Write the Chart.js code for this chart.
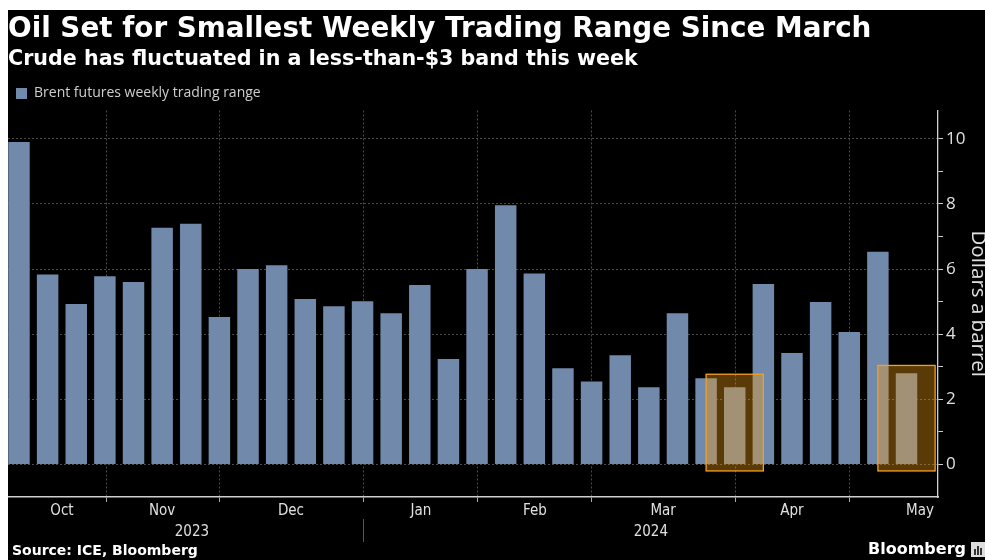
<!DOCTYPE html>
<html>
<head>
<meta charset="utf-8">
<script src="https://cdn.jsdelivr.net/npm/chart.js@4.4.1/dist/chart.umd.min.js"></script>
<style>
  html, body { margin: 0; padding: 0; background: #fff; }
  #wrap { position: absolute; left: 8px; top: 10px; width: 977px; height: 550px; background: #000; overflow: hidden; }
</style>
</head>
<body>
<div id="wrap"><canvas id="chart" width="977" height="550"></canvas></div>
<script>
// 週ごとの値幅（ドル/バレル）
var ranges = [9.9, 5.83, 4.93, 5.78, 5.6, 7.27, 7.39, 4.53, 6.0, 6.12, 5.08, 4.86, 5.01, 4.64, 5.51, 3.24,
  6.0, 7.96, 5.86, 2.95, 2.55, 3.35, 2.37, 4.64, 2.65, 2.37, 5.54, 3.42, 4.99, 4.07, 6.53, 2.8];

// 月ラベルと区切り（週の番号で指定）
var monthNames = ["Oct", "Nov", "Dec", "Jan", "Feb", "Mar", "Apr", "May"];
var monthLabelPos = [1.5, 5, 9.5, 14.04, 18.02, 22.5, 27, 31.47];
var monthBounds = [3.04, 7.02, 12.02, 16, 20, 25.03, 29.01];

// 年ラベル
var yearNames = ["2023", "2024"];
var yearPos = [6.04, 22.07];
var yearBound = 12.02;

// 縦軸の目盛り
var yTicks = [0, 1, 2, 3, 4, 5, 6, 7, 8, 9, 10];

// オレンジの枠（今週と3月の週）
var boxFrom = [24, 30];
var boxTo = [26, 32];
var boxTop = [2.77, 3.04];
var boxBottom = [-0.2, -0.2];

var xMin = -0.384;
var xMax = 32.1;

var points = ranges.map(function (v, i) { return { x: i, y: v }; });

// 枠を描く
var boxPlugin = {
  id: "boxes",
  afterDatasetsDraw: function (chart) {
    var ctx = chart.ctx;
    var xs = chart.scales.x, ys = chart.scales.y;
    ctx.save();
    for (var i = 0; i < boxFrom.length; i++) {
      var x1 = xs.getPixelForValue(boxFrom[i]);
      var x2 = xs.getPixelForValue(boxTo[i]);
      var y1 = ys.getPixelForValue(boxTop[i]);
      var y2 = ys.getPixelForValue(boxBottom[i]);
      ctx.fillStyle = "rgba(250,160,20,0.36)";
      ctx.fillRect(x1, y1, x2 - x1, y2 - y1);
      ctx.strokeStyle = "#f5a020";
      ctx.lineWidth = 1.3;
      ctx.strokeRect(x1, y1, x2 - x1, y2 - y1);
    }
    ctx.restore();
  }
};

// 年の区切り線と出典
var footerPlugin = {
  id: "footer",
  afterDraw: function (chart) {
    var ctx = chart.ctx;
    var xs = chart.scales.x;
    ctx.save();
    var sx = Math.round(xs.getPixelForValue(yearBound)) + 0.5;
    ctx.strokeStyle = "#555";
    ctx.lineWidth = 1;
    ctx.beginPath();
    ctx.moveTo(sx, 509);
    ctx.lineTo(sx, 532);
    ctx.stroke();

    ctx.fillStyle = "#fff";
    ctx.textBaseline = "middle";
    ctx.font = "bold 14px 'DejaVu Sans'";
    ctx.fillText("Source: ICE, Bloomberg", 4, 541);
    ctx.font = "bold 16px 'DejaVu Sans'";
    ctx.fillText("Bloomberg", 860, 540);
    ctx.fillStyle = "#ddd";
    ctx.fillRect(963, 532, 14, 15);
    ctx.fillStyle = "#333";
    ctx.fillRect(966, 539, 2, 6);
    ctx.fillRect(969, 536, 2, 9);
    ctx.fillRect(972, 538, 2, 7);
    ctx.restore();
  }
};

new Chart(document.getElementById("chart"), {
  type: "bar",
  data: {
    datasets: [{
      label: "Brent futures weekly trading range",
      data: points,
      backgroundColor: "#7189ab",
      borderWidth: 0,
      barPercentage: 0.75,
      categoryPercentage: 1,
      xAxisID: "x",
      yAxisID: "y"
    }]
  },
  options: {
    responsive: false,
    animation: false,
    layout: { padding: { left: 0, right: 0, top: 0, bottom: 17 } },
    plugins: {
      title: {
        display: true,
        text: "Oil Set for Smallest Weekly Trading Range Since March",
        align: "start",
        color: "#fff",
        font: { family: "'DejaVu Sans'", size: 27.8, weight: "bold", lineHeight: 1 },
        padding: { top: 6, bottom: 0 }
      },
      subtitle: {
        display: true,
        text: "Crude has fluctuated in a less-than-$3 band this week",
        align: "start",
        color: "#fff",
        font: { family: "'DejaVu Sans'", size: 20.65, weight: "bold", lineHeight: 1 },
        padding: { top: 5.25, bottom: 8.75 }
      },
      legend: {
        display: true,
        align: "start",
        labels: {
          color: "#cfcfcf",
          boxWidth: 11,
          boxHeight: 11,
          padding: 8,
          font: { family: "'Open Sans'", size: 14 }
        }
      },
      tooltip: { enabled: false }
    },
    scales: {
      x: {
        type: "linear",
        position: "bottom",
        offset: false,
        weight: 0,
        min: xMin,
        max: xMax,
        afterBuildTicks: function (scale) {
          scale.ticks = monthBounds.map(function (v) { return { value: v }; });
        },
        afterFit: function (scale) { scale.height = 5; },
        ticks: { display: false },
        grid: { offset: false, color: "#4a4a4a", tickColor: "#aaa", tickLength: 5, lineWidth: 1 },
        border: { color: "#cfcfcf", width: 1.5, dash: [2, 2] }
      },
      x2: {
        type: "linear",
        position: "bottom",
        offset: false,
        weight: 1,
        min: xMin,
        max: xMax,
        afterBuildTicks: function (scale) {
          scale.ticks = monthLabelPos.map(function (v) { return { value: v }; });
        },
        afterFit: function (scale) { scale.height = 21; },
        ticks: {
          autoSkip: false,
          maxRotation: 0,
          padding: 0,
          color: "#e0e0e0",
          font: { family: "'DejaVu Sans Condensed', 'DejaVu Sans'", size: 15 },
          callback: function (v, i) { return monthNames[i]; }
        },
        grid: { display: false, drawTicks: false, offset: false },
        border: { display: false }
      },
      x3: {
        type: "linear",
        position: "bottom",
        offset: false,
        weight: 2,
        min: xMin,
        max: xMax,
        afterBuildTicks: function (scale) {
          scale.ticks = yearPos.map(function (v) { return { value: v }; });
        },
        afterFit: function (scale) { scale.height = 20; },
        ticks: {
          autoSkip: false,
          maxRotation: 0,
          padding: 0,
          color: "#e0e0e0",
          font: { family: "'DejaVu Sans Condensed', 'DejaVu Sans'", size: 15 },
          callback: function (v, i) { return yearNames[i]; }
        },
        grid: { display: false, drawTicks: false, offset: false },
        border: { display: false }
      },
      y: {
        position: "right",
        min: -1,
        max: 10.87,
        afterBuildTicks: function (scale) {
          scale.ticks = yTicks.map(function (v) { return { value: v }; });
        },
        afterFit: function (scale) { scale.width = 47; },
        ticks: {
          padding: 3,
          color: "#e0e0e0",
          font: { family: "'Open Sans'", size: 17 },
          callback: function (v) { return v % 2 === 0 ? v : ""; }
        },
        grid: {
          color: function (c) { return c.tick && c.tick.value % 2 === 0 ? "#4a4a4a" : "rgba(0,0,0,0)"; },
          tickColor: "#cfcfcf",
          tickLength: 5
        },
        border: { color: "#cfcfcf", width: 1.3, dash: [2, 2] },
        title: {
          display: true,
          text: "Dollars a barrel",
          color: "#e0e0e0",
          font: { family: "'Open Sans'", size: 20.5, lineHeight: 1.2 },
          padding: { top: -5.3, bottom: 0 }
        }
      }
    }
  },
  plugins: [boxPlugin, footerPlugin]
});
</script>
</body>
</html>
